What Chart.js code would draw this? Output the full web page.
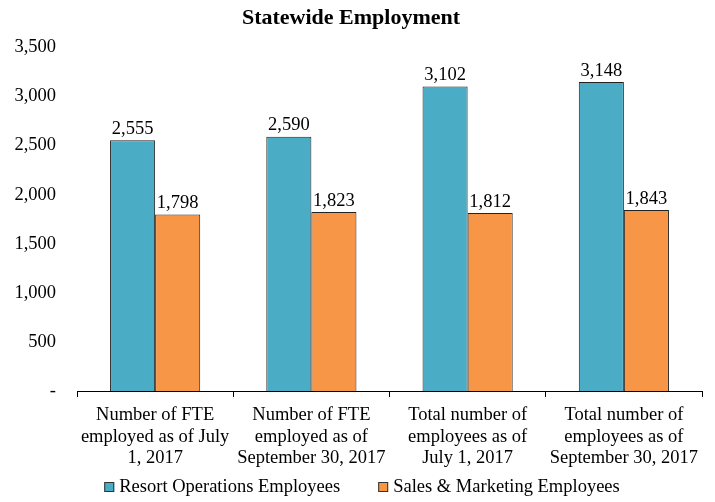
<!DOCTYPE html>
<html>
<head>
<meta charset="utf-8">
<script src="https://cdn.jsdelivr.net/npm/chart.js@4/dist/chart.umd.min.js"></script>
<style>
html,body{margin:0;padding:0;background:#fff;}
#wrap{width:715px;height:502px;position:relative;}
</style>
</head>
<body>
<div id="wrap"><canvas id="c"></canvas></div>
<script>
const categories = [
  ["Number of FTE", "employed as of July", "1, 2017"],
  ["Number of FTE", "employed as of", "September 30, 2017"],
  ["Total number of", "employees as of", "July 1, 2017"],
  ["Total number of", "employees as of", "September 30, 2017"]
];
const resortOps = [2555, 2590, 3102, 3148];
const salesMarketing = [1798, 1823, 1812, 1843];
const seriesNames = ["Resort Operations Employees", "Sales & Marketing Employees"];
const yTicks = [0, 500, 1000, 1500, 2000, 2500, 3000, 3500];

const FONT = "'Liberation Serif', 'Times New Roman', serif";
const FS = 18.5;

const valueLabels = {
  id: 'valueLabels',
  afterDatasetsDraw(chart) {
    const ctx = chart.ctx;
    ctx.save();
    ctx.font = FS + "px " + FONT;
    ctx.fillStyle = "#000";
    ctx.textAlign = "center";
    ctx.textBaseline = "bottom";
    chart.data.datasets.forEach((ds, i) => {
      const meta = chart.getDatasetMeta(i);
      meta.data.forEach((bar, j) => {
        ctx.fillText(ds.data[j].toLocaleString('en-US'), bar.x, bar.y - 2);
      });
    });
    ctx.restore();
  }
};

// legend drawn from the chart's own legend items (box + label), centered below the axis
const bottomLegend = {
  id: 'bottomLegend',
  afterDraw(chart) {
    const ctx = chart.ctx;
    const items = chart.options.plugins.legend.labels.generateLabels(chart);
    const box = 10, gapText = 5, gapItem = 38;
    ctx.save();
    ctx.font = FS + "px " + FONT;
    const widths = items.map(it => box + gapText + ctx.measureText(it.text).width);
    const total = widths.reduce((a, b) => a + b, 0) + gapItem * (items.length - 1);
    let x = 362 - total / 2;
    const yc = 487;
    items.forEach((it, i) => {
      ctx.fillStyle = it.fillStyle;
      ctx.strokeStyle = '#333';
      ctx.lineWidth = 1;
      ctx.fillRect(x, yc - box / 2, box, box);
      ctx.strokeRect(x + 0.5, yc - box / 2 + 0.5, box - 1, box - 1);
      ctx.fillStyle = '#000';
      ctx.textAlign = 'left';
      ctx.textBaseline = 'middle';
      ctx.fillText(it.text, x + box + gapText, yc);
      x += widths[i] + gapItem;
    });
    ctx.restore();
  }
};

new Chart(document.getElementById('c'), {
  type: 'bar',
  data: {
    labels: categories,
    datasets: [
      { label: seriesNames[0], data: resortOps, backgroundColor: '#4BACC6', borderColor: '#222', borderWidth: 1 },
      { label: seriesNames[1], data: salesMarketing, backgroundColor: '#F79646', borderColor: '#222', borderWidth: 1 }
    ]
  },
  options: {
    responsive: true,
    maintainAspectRatio: false,
    animation: false,
    devicePixelRatio: 1,
    layout: { padding: { left: 0, right: 13, top: 4, bottom: 30 } },
    datasets: { bar: { categoryPercentage: 0.577, barPercentage: 1.0 } },
    plugins: {
      title: {
        display: true,
        text: 'Statewide Employment',
        color: '#000',
        font: { family: FONT, size: 22, weight: 'bold' },
        padding: { top: 1, bottom: 16 }
      },
      legend: { display: false },
      tooltip: { enabled: false }
    },
    scales: {
      x: {
        grid: { display: true, offset: true, drawOnChartArea: false, drawTicks: true, tickLength: 6, color: '#000' },
        border: { display: true, color: '#000', width: 1 },
        ticks: { color: '#000', font: { family: FONT, size: FS, lineHeight: 1.15 }, maxRotation: 0, autoSkip: false, padding: 8 },
        afterFit(scale) { scale.height = 81; }
      },
      y: {
        min: 0,
        max: 3500,
        grid: { display: false, drawTicks: false },
        border: { display: false },
        afterBuildTicks(scale) { scale.ticks = yTicks.map(v => ({ value: v })); },
        ticks: {
          color: '#000',
          font: { family: FONT, size: FS },
          padding: 21,
          callback: v => v === 0 ? '-' : v.toLocaleString('en-US')
        },
        afterFit(scale) { scale.width = 77; }
      }
    }
  },
  plugins: [valueLabels, bottomLegend]
});
</script>
</body>
</html>
